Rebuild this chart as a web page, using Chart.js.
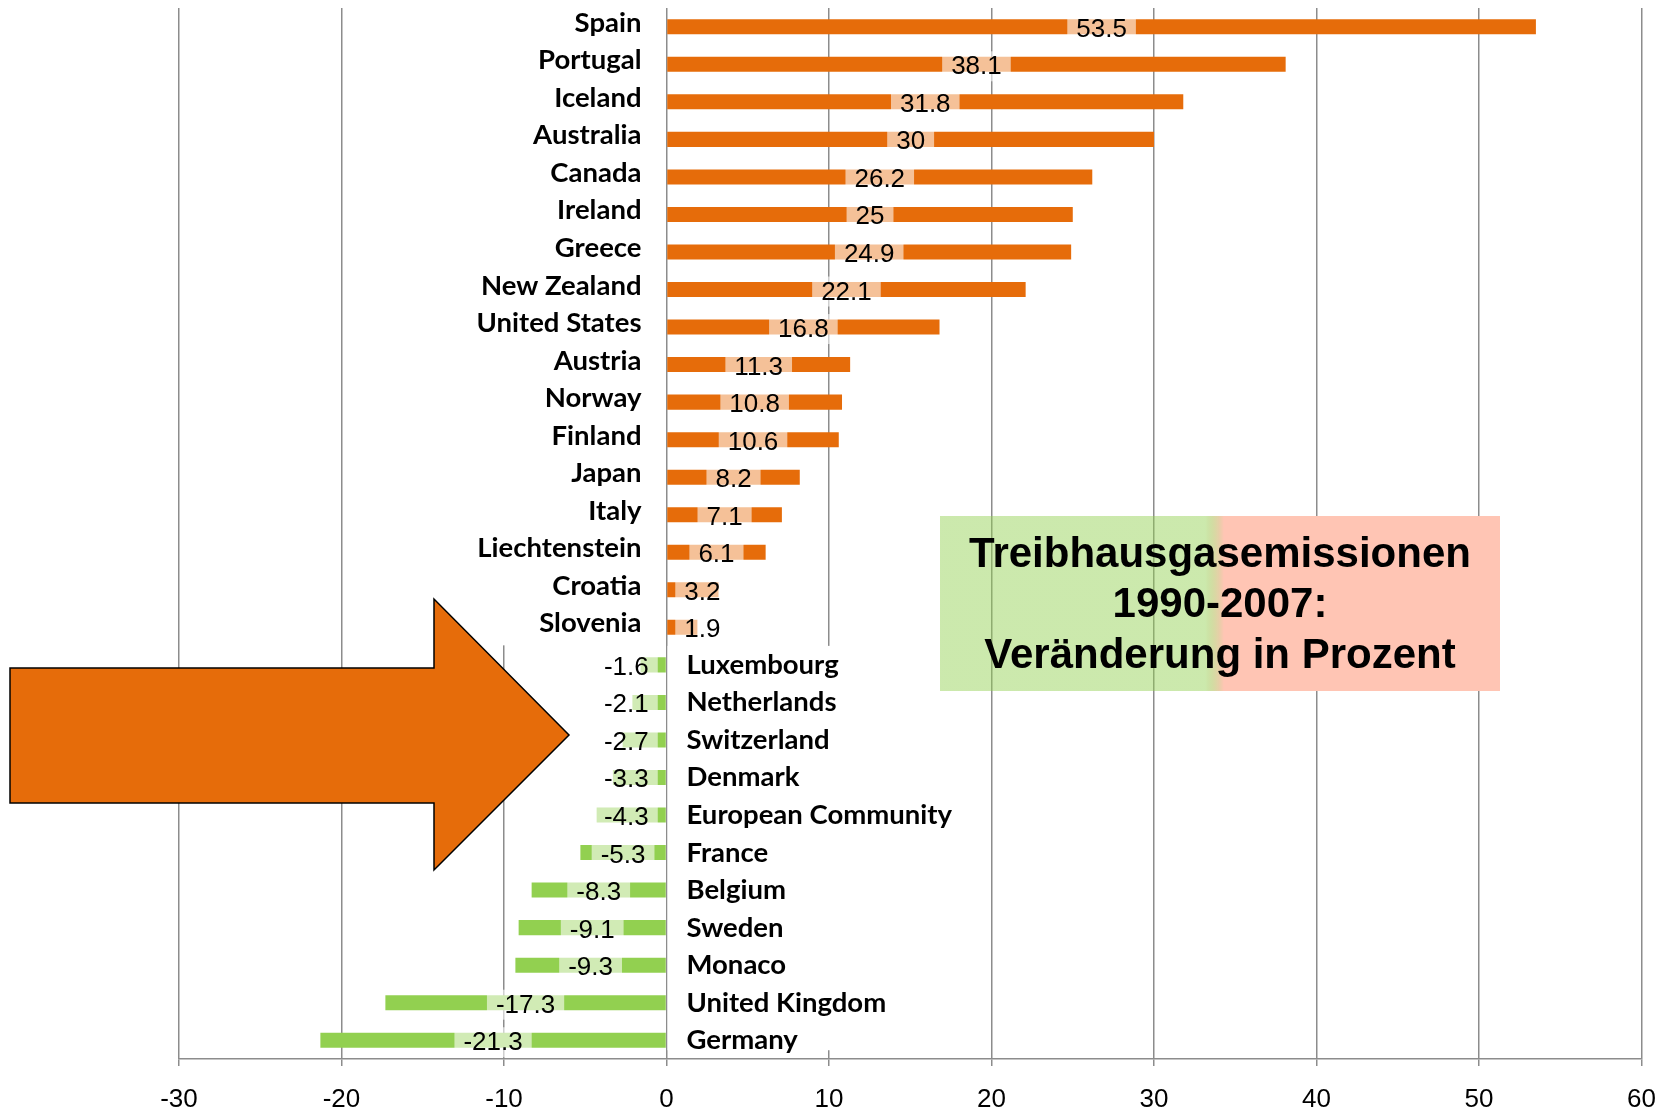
<!DOCTYPE html>
<html>
<head>
<meta charset="utf-8">
<title>Treibhausgasemissionen 1990-2007</title>
<script src="https://cdn.jsdelivr.net/npm/chart.js@4.4.0/dist/chart.umd.min.js"></script>
<style>
  body { margin: 0; background: #fff; overflow: hidden; }
  #wrap { width: 1674px; height: 1112px; overflow: hidden; }
  #chart { display: block; }
</style>
</head>
<body>
<div id="wrap"><canvas id="chart" width="1674" height="1140"></canvas></div>
<script>
const countries = ['Spain', 'Portugal', 'Iceland', 'Australia', 'Canada', 'Ireland', 'Greece',
  'New Zealand', 'United States', 'Austria', 'Norway', 'Finland', 'Japan', 'Italy',
  'Liechtenstein', 'Croatia', 'Slovenia', 'Luxembourg', 'Netherlands', 'Switzerland',
  'Denmark', 'European Community', 'France', 'Belgium', 'Sweden', 'Monaco',
  'United Kingdom', 'Germany'];
const changes = [53.5, 38.1, 31.8, 30, 26.2, 25, 24.9,
  22.1, 16.8, 11.3, 10.8, 10.6, 8.2, 7.1,
  6.1, 3.2, 1.9, -1.6, -2.1, -2.7,
  -3.3, -4.3, -5.3, -8.3, -9.1, -9.3,
  -17.3, -21.3];
const xTicks = [-30, -20, -10, 0, 10, 20, 30, 40, 50, 60];
const titleLines = ['Treibhausgasemissionen', '1990-2007:', 'Veränderung in Prozent'];

const ORANGE = '#E66C0A';
const GREEN = '#92D050';
const GRID = '#8c8c8c';

// where the plot area sits in the slide
const AREA = { left: 179, right: 1645, top: 8, bottom: 1059 };

function barColor(ctx) {
  return ctx.raw < 0 ? GREEN : ORANGE;
}

// country names next to the zero line, on a white strip that hides the grid
const namesPlugin = {
  id: 'names',
  beforeDatasetsDraw(chart) {
    const c = chart.ctx;
    const zero = chart.scales.x.getPixelForValue(0);
    const bars = chart.getDatasetMeta(0).data;
    c.save();
    c.font = 'bold 27.5px Lato';
    let posLeft = zero, negRight = zero, posBottom = 0, negTop = 0, negBottom = 0;
    bars.forEach((bar, i) => {
      const w = c.measureText(countries[i]).width;
      if (changes[i] >= 0) {
        posLeft = Math.min(posLeft, zero - 25 - w);
        posBottom = bar.y + 18;
      } else {
        negRight = Math.max(negRight, zero + 20 + w);
        if (!negTop) negTop = bar.y - 19;
        negBottom = bar.y + 10;
      }
    });
    c.fillStyle = '#fff';
    c.fillRect(posLeft - 6, chart.chartArea.top, zero - 1 - (posLeft - 6), posBottom - chart.chartArea.top);
    c.fillRect(zero + 1, negTop, negRight + 10 - zero - 1, negBottom - negTop);

    c.fillStyle = '#000';
    bars.forEach((bar, i) => {
      if (changes[i] >= 0) {
        c.textAlign = 'right';
        c.fillText(countries[i], zero - 25, bar.y + 5);
      } else {
        c.textAlign = 'left';
        c.fillText(countries[i], zero + 20, bar.y + 9);
      }
    });
    c.restore();
  }
};

// value in the middle of the bar, kept off the zero line like excel does
const valuesPlugin = {
  id: 'values',
  afterDatasetsDraw(chart) {
    const c = chart.ctx;
    const bars = chart.getDatasetMeta(0).data;
    c.save();
    c.font = '26px "Liberation Sans"';
    c.textAlign = 'center';
    bars.forEach((bar, i) => {
      const v = changes[i];
      const txt = String(v);
      const zero = bar.base;
      const w = c.measureText(txt).width + 18;
      let mid = (bar.x + zero) / 2;
      if (v >= 0) mid = Math.max(mid, zero + 8 + w / 2);
      else mid = Math.min(mid, zero - 8 - w / 2);
      c.fillStyle = 'rgba(255,255,255,0.58)';
      c.fillRect(mid - w / 2, bar.y - 13, w, 30);
      c.fillStyle = '#000';
      c.fillText(txt, mid, bar.y + 10);
    });
    c.restore();
  }
};

// title box and the big arrow on top
const overlayPlugin = {
  id: 'overlay',
  afterDraw(chart) {
    const c = chart.ctx;
    c.save();
    let g = c.createLinearGradient(940, 0, 1500, 0);
    g.addColorStop(0, 'rgba(146,208,80,0.47)');
    g.addColorStop(0.473, 'rgba(146,208,80,0.47)');
    g.addColorStop(0.507, 'rgb(255,197,180)');
    g.addColorStop(1, 'rgb(255,197,180)');
    c.fillStyle = g;
    c.fillRect(940, 516, 560, 175);
    c.fillStyle = '#000';
    c.font = 'bold 42px "Liberation Sans"';
    c.textAlign = 'center';
    c.textBaseline = 'middle';
    titleLines.forEach((t, i) => {
      c.fillText(t, 1220, 555 + i * 50.5);
    });

    c.beginPath();
    c.moveTo(10, 668);
    c.lineTo(434, 668);
    c.lineTo(434, 599);
    c.lineTo(569, 735);
    c.lineTo(434, 870);
    c.lineTo(434, 803);
    c.lineTo(10, 803);
    c.closePath();
    c.fillStyle = ORANGE;
    c.fill();
    c.lineWidth = 1.5;
    c.strokeStyle = '#000';
    c.stroke();
    c.restore();
  }
};

const chart = new Chart('chart', {
  type: 'bar',
  data: {
    labels: countries,
    datasets: [{
      data: changes,
      backgroundColor: barColor,
      barPercentage: 0.4,
      categoryPercentage: 1.0
    }]
  },
  options: {
    responsive: false,
    animation: false,
    devicePixelRatio: 1,
    indexAxis: 'y',
    layout: { padding: { left: AREA.left, right: 31, top: AREA.top, bottom: 20 } },
    plugins: { legend: { display: false }, tooltip: { enabled: false } },
    scales: {
      x: {
        min: xTicks[0],
        max: xTicks[xTicks.length - 1],
        afterBuildTicks: s => { s.ticks = xTicks.map(v => ({ value: v })); },
        ticks: {
          color: '#000',
          font: { family: 'Liberation Sans', size: 26 },
          padding: 18,
          maxRotation: 0
        },
        grid: { color: GRID, lineWidth: 1.5, tickLength: 7 },
        border: { color: GRID, width: 1.5 }
      },
      y: { display: false }
    }
  },
  plugins: [namesPlugin, valuesPlugin, overlayPlugin]
});

// nudge the padding a few times so the plot area lands where it is in the picture
for (let k = 0; k < 3; k++) {
  const a = chart.chartArea;
  const p = chart.options.layout.padding;
  chart.options.layout.padding = {
    left: p.left + AREA.left - a.left,
    right: p.right + a.right - AREA.right,
    top: p.top + AREA.top - a.top,
    bottom: p.bottom + a.bottom - AREA.bottom
  };
  chart.update();
}
</script>
</body>
</html>
